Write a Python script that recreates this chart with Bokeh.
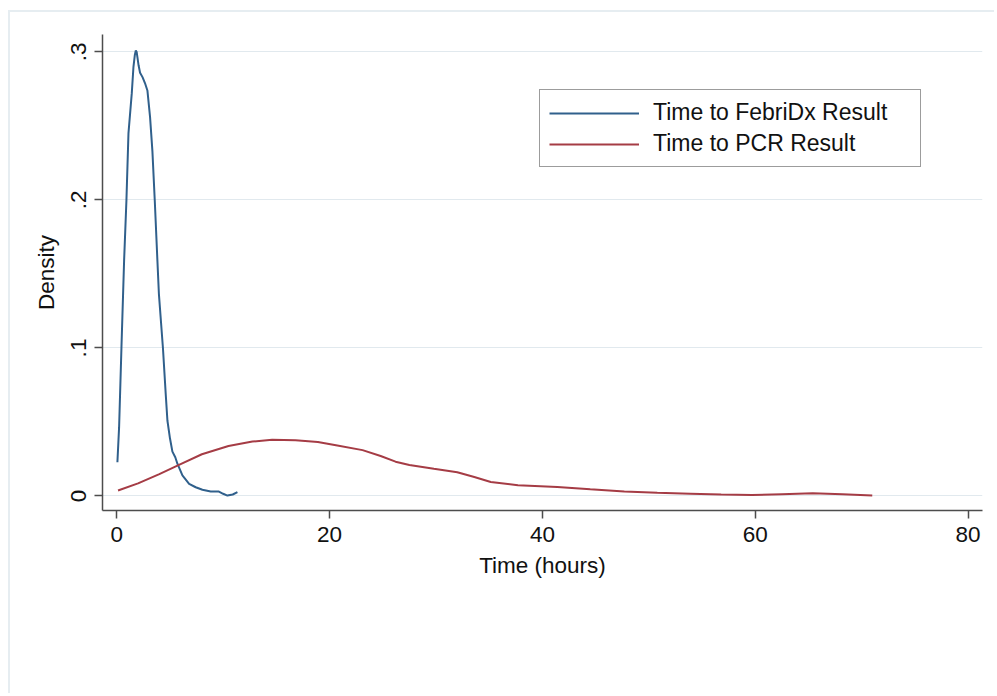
from bokeh.plotting import figure
from bokeh.models import Range1d, FixedTicker, Legend, LegendItem
from bokeh.embed import file_html
from bokeh.resources import INLINE

# --- data ---
febridx_x = [0.06, 0.22, 0.44, 0.69, 0.91, 1.10, 1.41, 1.57, 1.70, 1.79, 1.87, 1.94, 2.05,
             2.19, 2.42, 2.65, 2.88, 3.13, 3.35, 3.57, 3.82, 3.96, 4.34, 4.60, 4.76, 5.00,
             5.23, 5.50, 5.70, 6.17, 6.80, 7.42, 8.05, 8.83, 9.60, 10.00, 10.40, 10.90, 11.34]
febridx_y = [0.0228, 0.0465, 0.100, 0.159, 0.200, 0.245, 0.272, 0.290, 0.298, 0.301, 0.300,
             0.2965, 0.291, 0.286, 0.283, 0.279, 0.274, 0.256, 0.233, 0.200, 0.159, 0.1366,
             0.100, 0.069, 0.051, 0.039, 0.0300, 0.0262, 0.0218, 0.0139, 0.0082, 0.0059,
             0.0042, 0.0030, 0.0030, 0.0015, 0.0003, 0.0010, 0.0026]

pcr_x = [0.12, 2.0, 4.0, 6.0, 8.0, 10.5, 12.75, 14.6, 16.8, 18.9, 20.6, 23.1, 24.8, 26.2,
         27.5, 29.8, 32.0, 33.6, 35.15, 37.7, 41.4, 44.5, 47.7, 50.8, 53.9, 56.8, 59.7,
         62.5, 65.4, 68.2, 71.0]
pcr_y = [0.0037, 0.0085, 0.0148, 0.0215, 0.0282, 0.0338, 0.0368, 0.0380, 0.0376, 0.0365,
         0.0343, 0.0310, 0.0270, 0.0232, 0.0210, 0.0184, 0.0160, 0.0128, 0.0095, 0.0072,
         0.0060, 0.0045, 0.0030, 0.0022, 0.0016, 0.0010, 0.0006, 0.0012, 0.0018, 0.0012,
         0.0003]

x_ticks = [0, 20, 40, 60, 80]
y_ticks = [0, 0.1, 0.2, 0.3]
y_tick_labels = {0: "0", 0.1: ".1", 0.2: ".2", 0.3: ".3"}

series_names = ["Time to FebriDx Result", "Time to PCR Result"]
series_colors = ["#30608c", "#a53c45"]

FONT = "Liberation Sans"

p = figure(width=986, height=683, output_backend="svg", toolbar_location=None,
           x_range=Range1d(-1.34, 81.36), y_range=Range1d(-0.0098, 0.3118),
           min_border_left=92, min_border_top=22, min_border_right=14, min_border_bottom=185)
p.margin = (12, 0, 0, 10)
p.styles = {"box-shadow": "-2px -2px 0px 0px #e6edf1"}
p.background_fill_color = "white"
p.border_fill_color = "white"
p.outline_line_color = None

r1 = p.line(febridx_x, febridx_y, line_color=series_colors[0], line_width=2)
r2 = p.line(pcr_x, pcr_y, line_color=series_colors[1], line_width=2)

# axes
for ax in (p.xaxis[0], p.yaxis[0]):
    ax.axis_line_color = "#4d4d4d"
    ax.axis_line_width = 1.5
    ax.major_tick_line_color = "#4d4d4d"
    ax.major_tick_line_width = 1.5
    ax.major_tick_out = 8
    ax.major_tick_in = 0
    ax.minor_tick_line_color = None
    ax.major_label_text_font = FONT
    ax.major_label_text_font_size = "22.5px"
    ax.major_label_text_color = "#111111"
    ax.axis_label_text_font = FONT
    ax.axis_label_text_font_size = "22.5px"
    ax.axis_label_text_font_style = "normal"
    ax.axis_label_text_color = "#111111"

p.xaxis.ticker = FixedTicker(ticks=x_ticks)
p.xaxis.axis_label = "Time (hours)"
p.xaxis.major_label_standoff = 8
p.xaxis.axis_label_standoff = 8

p.yaxis.ticker = FixedTicker(ticks=y_ticks)
p.yaxis.major_label_overrides = y_tick_labels
p.yaxis.major_label_orientation = "vertical"
p.yaxis.axis_label = "Density"
p.yaxis.major_label_standoff = 8
p.yaxis.axis_label_standoff = 10

p.xgrid.visible = False
p.ygrid.ticker = FixedTicker(ticks=y_ticks)
p.ygrid.grid_line_color = "#e1e9ee"
p.ygrid.grid_line_width = 1

legend = Legend(items=[LegendItem(label=series_names[0], renderers=[r1]),
                       LegendItem(label=series_names[1], renderers=[r2])],
                location=(437, 343))
legend.border_line_color = "#3a3a3a"
legend.border_line_width = 1
legend.background_fill_color = "white"
legend.background_fill_alpha = 1
legend.padding = 9
legend.spacing = 4
legend.glyph_width = 90
legend.glyph_height = 24
legend.label_height = 24
legend.label_width = 258
legend.label_standoff = 14
legend.label_text_font = FONT
legend.label_text_font_size = "23px"
legend.label_text_color = "#111111"
legend.margin = 0
p.add_layout(legend)

open("out.html", "w").write(file_html(p, INLINE))
